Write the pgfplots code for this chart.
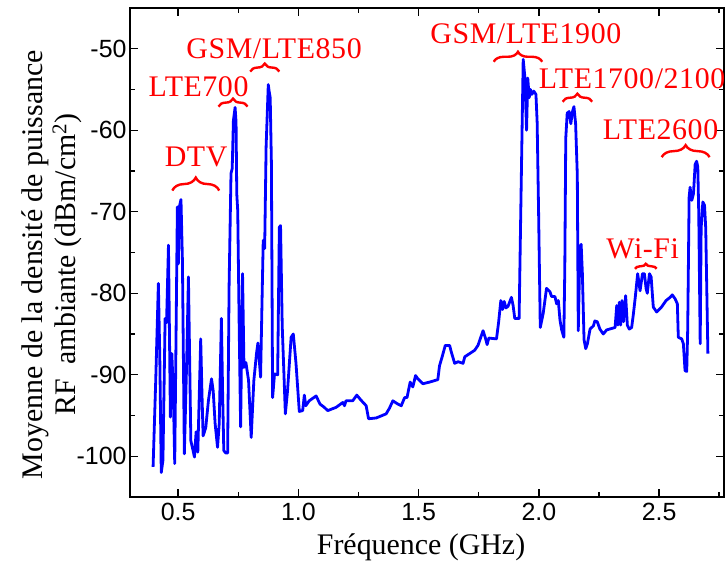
\documentclass[border=0pt]{standalone}
\usepackage{pgfplots}
\pgfplotsset{compat=1.18}
\usepackage{fontspec}
\setmainfont{Liberation Serif}
\newfontfamily\ticksans{Liberation Sans}
\newfontfamily\bandfont[LetterSpace=2]{Liberation Serif}
\usetikzlibrary{decorations.pathreplacing}

\begin{document}
\begin{tikzpicture}
\begin{axis}[
  scale only axis,
  width=594bp, height=489bp,
  xmin=0.3, xmax=2.77,
  ymin=-105, ymax=-45,
  xtick={0.5,1.0,1.5,2.0,2.5},
  minor xtick={0.75,1.25,1.75,2.25,2.75},
  ytick={-100,-90,-80,-70,-60,-50},
  minor ytick={-95,-85,-75,-65,-55},
  tick align=inside,
  major tick length=8bp, minor tick length=5bp,
  every tick/.style={black, line width=1.4bp},
  axis line style={line width=1.6bp},
  x tick label style={/pgf/number format/.cd, fixed, fixed zerofill, precision=1, assume math mode=true, /tikz/.cd,
    font=\fontsize{25}{25}\ticksans, yshift=-3bp},
  y tick label style={/pgf/number format/.cd, assume math mode=true, /tikz/.cd,
    font=\fontsize{25}{25}\ticksans},
  xlabel={Fréquence (GHz)},
  xlabel style={font=\fontsize{30}{30}\selectfont, at={(axis description cs:0.49,-0.075)}, anchor=north, inner sep=0pt},
  ylabel={Moyenne de la densité de puissance\\RF\ \ ambiante (dBm/cm\textsuperscript{2})},
  ylabel style={font=\fontsize{30}{33}\selectfont, align=center, at={(axis description cs:-0.081,0.475)}, anchor=south, inner sep=0pt},
  clip=false,
]
\addplot[blue, line width=2.8bp, line join=round] coordinates {
(0.396,-101.3) (0.407,-90.7) (0.418,-78.8) (0.424,-88) (0.430,-102) (0.437,-100.5)
(0.446,-83.1) (0.452,-83.6) (0.460,-74.1) (0.466,-90) (0.468,-95.2) (0.474,-87.4)
(0.480,-92) (0.486,-100.9) (0.497,-69.4) (0.501,-76.4) (0.506,-69.3) (0.512,-68.5)
(0.518,-76) (0.526,-99.7) (0.536,-88) (0.543,-78.0) (0.549,-90) (0.553,-98.1)
(0.560,-99) (0.568,-100.1) (0.575,-97) (0.582,-99.5) (0.594,-85.6) (0.599,-92)
(0.604,-97.5) (0.615,-96.5) (0.626,-93.2) (0.639,-90.5) (0.646,-92) (0.654,-96)
(0.664,-98.9) (0.671,-96) (0.680,-83.1) (0.685,-92) (0.690,-99.3) (0.698,-99.6)
(0.706,-99.6) (0.712,-79.2) (0.720,-65.3) (0.725,-64.7) (0.730,-58.8) (0.737,-57.2)
(0.741,-59) (0.744,-67.8) (0.748,-69.9) (0.754,-84) (0.760,-96.4) (0.768,-77.6)
(0.774,-89.1) (0.782,-88.5) (0.793,-90.7) (0.804,-97.7) (0.815,-90.7) (0.826,-87.4)
(0.832,-86.1) (0.843,-90.3) (0.849,-81) (0.854,-73.5) (0.860,-74.5) (0.866,-62)
(0.875,-54.4) (0.879,-55.3) (0.883,-56) (0.888,-64) (0.893,-92.8) (0.901,-89.9)
(0.914,-90) (0.921,-71.9) (0.926,-71.7) (0.933,-84) (0.946,-94.8) (0.955,-92)
(0.970,-85.4) (0.979,-85) (0.990,-88.5) (1.004,-94.5) (1.018,-94.4) (1.025,-92.5)
(1.031,-93.8) (1.045,-93.2) (1.074,-92.6) (1.090,-93.6) (1.108,-94.0) (1.122,-94.4)
(1.157,-94.0) (1.185,-93.4) (1.192,-93.8) (1.198,-93.2) (1.226,-93.2) (1.243,-92.5)
(1.260,-93.1) (1.282,-93.8) (1.292,-95.4) (1.324,-95.3) (1.365,-94.8) (1.379,-94.1)
(1.393,-93.2) (1.414,-93.6) (1.428,-93.8) (1.442,-92.8) (1.452,-92.8) (1.465,-90.9)
(1.476,-91.5) (1.4875,-90.1) (1.497,-90.5) (1.518,-91.1) (1.546,-90.9) (1.580,-90.6)
(1.587,-88.9) (1.598,-87.8) (1.611,-86.4) (1.629,-86.4) (1.636,-87.2) (1.650,-88.6)
(1.664,-88.4) (1.685,-88.6) (1.692,-87.8) (1.7125,-87.4) (1.733,-87) (1.747,-86.4)
(1.761,-85.2) (1.768,-84.6) (1.778,-85.5) (1.785,-86.3) (1.792,-85.5) (1.824,-85.6)
(1.833,-83.5) (1.842,-80.9) (1.849,-82) (1.856,-81) (1.863,-81.8) (1.872,-81.6)
(1.886,-80.5) (1.893,-81.5) (1.900,-83.1) (1.918,-83.1) (1.926,-68) (1.935,-51.3)
(1.942,-53.5) (1.949,-60.0) (1.954,-53.6) (1.960,-56) (1.965,-55) (1.971,-55.6)
(1.979,-55.2) (1.988,-55.6) (1.993,-59) (1.999,-70) (2.006,-84.2) (2.018,-82.5)
(2.032,-79.4) (2.046,-79.8) (2.053,-80.4) (2.067,-80.4) (2.074,-81.3) (2.081,-80.9)
(2.088,-83.3) (2.095,-84.5) (2.104,-85.4) (2.108,-77) (2.112,-61) (2.118,-57.9)
(2.126,-57.7) (2.133,-59.2) (2.140,-57.7) (2.146,-57.1) (2.153,-59.2) (2.160,-65.5)
(2.164,-84.6) (2.171,-74.4) (2.176,-74.0) (2.181,-77.5) (2.188,-85.7) (2.195,-86.8)
(2.202,-86.2) (2.213,-84.4) (2.227,-84.0) (2.233,-83.4) (2.243,-83.5) (2.254,-84.4)
(2.268,-85.0) (2.282,-84.5) (2.317,-84.2) (2.324,-81.5) (2.329,-83.9) (2.335,-81.1)
(2.340,-83.9) (2.346,-80.9) (2.352,-83.5) (2.361,-80.3) (2.368,-83.9) (2.376,-84.4)
(2.386,-84.2) (2.393,-82.6) (2.401,-80.5) (2.411,-77.6) (2.421,-79.7) (2.431,-77.6)
(2.439,-77.6) (2.446,-79.4) (2.451,-80.0) (2.460,-77.6) (2.467,-78.0) (2.476,-81.7)
(2.490,-82.3) (2.510,-81.7) (2.529,-80.9) (2.546,-80.5) (2.555,-80.2) (2.567,-80.7)
(2.576,-81.3) (2.580,-85.4) (2.594,-85.6) (2.601,-86.2) (2.608,-89.5) (2.615,-89.6)
(2.619,-84.5) (2.625,-68.2) (2.629,-67.0) (2.636,-68.6) (2.643,-67.8) (2.650,-64.2)
(2.656,-63.8) (2.661,-64.5) (2.665,-70.2) (2.671,-86.2) (2.675,-72) (2.682,-68.8)
(2.689,-69.2) (2.694,-72) (2.703,-87.4)
};

% band annotations
\tikzset{band/.style={red, font=\fontsize{30}{30}\bandfont, inner sep=0pt},
         br/.style={red, line width=2.4bp, decorate, decoration={brace, amplitude=#1}}}
\node[band] at (axis cs:0.575,-63.3) {DTV};
\draw[br=13bp] (axis cs:0.476,-67.4) -- (axis cs:0.671,-67.4);
\node[band] at (axis cs:0.585,-54.6) {LTE700};
\draw[br=8bp] (axis cs:0.668,-57.1) -- (axis cs:0.789,-57.1);
\node[band] at (axis cs:0.899,-50.0) {GSM/LTE850};
\draw[br=8bp] (axis cs:0.800,-52.8) -- (axis cs:0.921,-52.8);
\node[band] at (axis cs:1.946,-48.2) {GSM/LTE1900};
\draw[br=10bp] (axis cs:1.8125,-51.6) -- (axis cs:2.014,-51.6);
\node[band] at (axis cs:2.3875,-53.7) {LTE1700/2100};
\draw[br=8bp] (axis cs:2.099,-56.5) -- (axis cs:2.222,-56.5);
\node[band] at (axis cs:2.506,-59.9) {LTE2600};
\draw[br=12bp] (axis cs:2.511,-63.3) -- (axis cs:2.710,-63.3);
\node[band] at (axis cs:2.432,-74.6) {Wi-Fi};
\draw[br=5bp] (axis cs:2.400,-77.0) -- (axis cs:2.490,-77.0);
\end{axis}
\pgfresetboundingbox
\path[use as bounding box] ([shift={(-130bp,-70bp)}]current axis.south west) rectangle ([shift={(4bp,8bp)}]current axis.north east);
\end{tikzpicture}
\end{document}
